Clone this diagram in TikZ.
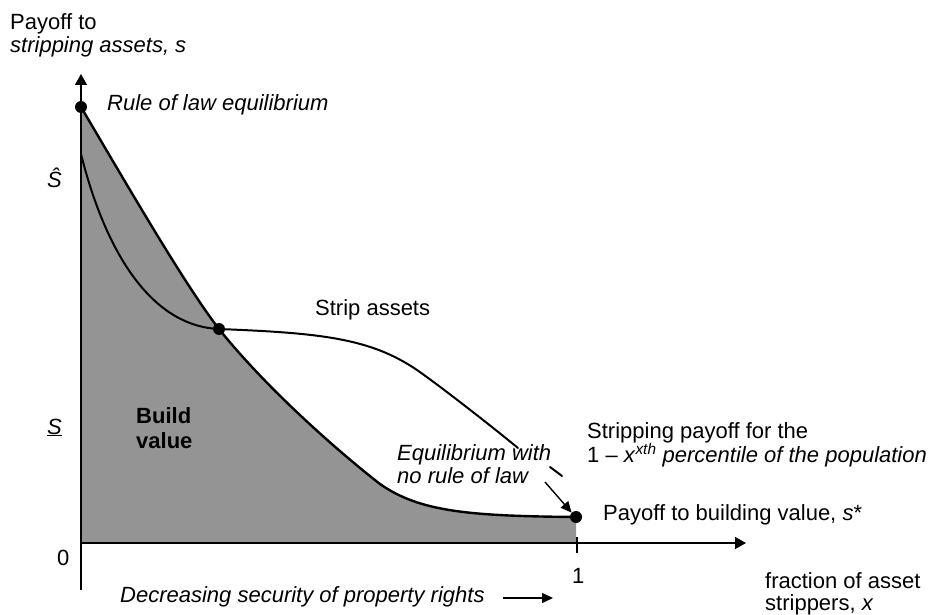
\documentclass[tikz,border=0pt]{standalone}
\usepackage{fontspec}
\setmainfont{Liberation Sans}
\usetikzlibrary{arrows.meta}
\newcommand\myfs{\fontsize{22}{23}\selectfont}
\begin{document}
\begin{tikzpicture}[x=1pt,y=-1pt,
  lbl/.style={font=\myfs,inner sep=0pt,anchor=base west,align=left},
  axis/.style={line width=1.4pt,-{Triangle[length=11pt,width=12pt]}},
  curve/.style={line width=2.4pt,line join=round,line cap=round},
  scurve/.style={line width=2pt,line join=round,line cap=round},
  eqdot/.style={circle,fill=black,inner sep=0pt,minimum size=12pt},
  shade/.style={fill=black!42}]
\useasboundingbox (0,0) rectangle (948,615);
% shaded region under build-value curve
\fill[shade] (81,107) .. controls (130,190) and (185,285) .. (219,329)
  .. controls (262,383) and (330,445) .. (380,484)
  .. controls (420,512) and (470,516) .. (576,517) -- (576,543) -- (81,543) -- cycle;
% axes
\coordinate (orig) at (81,543);
\coordinate (ybot) at (81,590);
\coordinate (ytop) at (81,74);
\coordinate (xend) at (746,543);
\draw[axis] (ybot) -- (ytop);
\draw[axis] (orig) -- (xend);
\coordinate (tickA) at (577,537);
\coordinate (tickB) at (577,553);
\draw[line width=1.4pt] (tickA) -- (tickB);
% build value curve
\draw[curve] (81,107) .. controls (130,190) and (185,285) .. (219,329)
  .. controls (262,383) and (330,445) .. (380,484)
  .. controls (420,512) and (470,516) .. (576,517);
% strip assets curve
\draw[scurve] (81,154) .. controls (105,250) and (150,326) .. (219,329)
  .. controls (320,333) and (370,338) .. (417,370)
  .. controls (440,386) and (490,425) .. (518,448);
\coordinate (sa) at (550,467);
\coordinate (sb) at (562,476);
\draw[scurve] (sa) -- (sb);
% dots
\node[eqdot] (rol) at (81,107) {};
\node[eqdot] (cross) at (219,329) {};
\node[eqdot] (nrol) at (576,517) {};
% labels
\node[lbl] (ylab) at (10,53) {Payoff to\\\textit{stripping assets, s}};
\node[lbl] (rollab) at (107,111) {\textit{Rule of law equilibrium}};
\node[lbl] (shat) at (47,187) {\textit{Ŝ}};
\node[lbl] (slow) at (47,434) {\underline{\textit{S}}};
\node[lbl] (zero) at (57,565) {0};
\node[lbl] (one) at (572,583) {1};
\node[lbl,font=\myfs\bfseries] (build) at (136,448) {Build\\[2pt]value};
\node[lbl] (strip) at (315,315) {Strip assets};
\node[lbl] (eqlab) at (397,483) {\textit{Equilibrium with}\\\textit{no rule of law}};
\node[lbl] (spay) at (587,462) {Stripping payoff for the\\[-1pt]1 -- \textit{x}\textsuperscript{\textit{xth}} \textit{percentile of the population}};
\node[lbl] (bpay) at (603,520) {Payoff to building value, \textit{s}*};
\node[lbl] (frac) at (765,610) {fraction of asset\\[-1pt]strippers, \textit{x}};
\node[lbl] (dec) at (120,602) {\textit{Decreasing security of property rights}};
% arrows
\coordinate (eqarr) at (545,482);
\draw[line width=1.4pt,-{Triangle[length=11pt,width=10pt]}] (eqarr) -- (nrol.135);
\coordinate (decA) at (503,598);
\coordinate (decB) at (553,598);
\draw[line width=1.4pt,-{Triangle[length=11pt,width=10pt]}] (decA) -- (decB);
\end{tikzpicture}
\end{document}
